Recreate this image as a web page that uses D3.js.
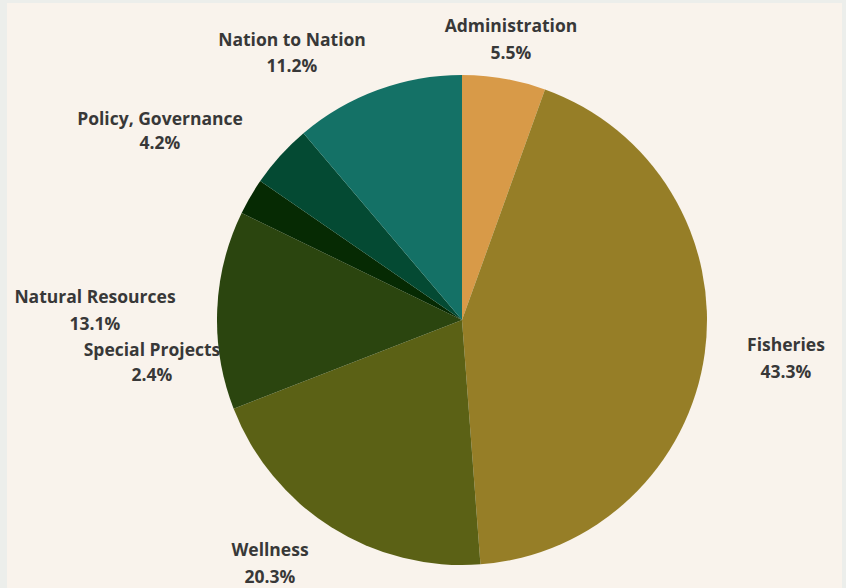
<!DOCTYPE html>
<html>
<head>
<meta charset="utf-8">
<script src="https://cdn.jsdelivr.net/npm/d3@7"></script>
<style>
  html, body { margin: 0; padding: 0; background: #ECEEEB; }
  svg { display: block; }
</style>
</head>
<body>
<div id="chart"></div>
<script>
// slice data, clockwise from 12 o'clock
var categories = ['Administration', 'Fisheries', 'Wellness', 'Natural Resources', 'Special Projects', 'Policy, Governance', 'Nation to Nation'];
var shares = [5.5, 43.3, 20.3, 13.1, 2.4, 4.2, 11.2];
var percentLabels = ['5.5%', '43.3%', '20.3%', '13.1%', '2.4%', '4.2%', '11.2%'];

var colors = ['#D89A48', '#967E27', '#5B6115', '#2B450F', '#062A03', '#044A33', '#147166'];
// hand placed labels: centre x, baseline of name, baseline of percent
var labelPos = [[511, 32, 59], [786, 351, 378], [270, 556, 583], [95, 303, 329.5], [152, 356, 381], [160, 124.5, 149], [292, 46, 72]];

var width = 846, height = 588;
var cx = 462, cy = 320, radius = 245;

var svg = d3.select('#chart').append('svg')
	.attr('width', width)
	.attr('height', height);

svg.append('rect')
	.attr('x', 7).attr('y', 3)
	.attr('width', 835).attr('height', height - 3)
	.attr('fill', '#F9F3EC');

var data = categories.map(function(c, i){
	return {name: c, value: shares[i], label: percentLabels[i], color: colors[i], pos: labelPos[i]};
});

var pie = d3.pie()
	.sort(null)
	.value(function(d){ return d.value; });

var arc = d3.arc()
	.innerRadius(0)
	.outerRadius(radius);

var g = svg.append('g').attr('transform', 'translate(' + cx + ',' + cy + ')');

g.selectAll('path')
	.data(pie(data))
	.enter().append('path')
	.attr('d', arc)
	.attr('fill', function(d){ return d.data.color; });

var labels = svg.append('g')
	.attr('font-family', '"Open Sans", sans-serif')
	.attr('font-weight', 700)
	.attr('font-size', 17.5)
	.attr('fill', '#383838')
	.attr('text-anchor', 'middle')
	.selectAll('g')
	.data(data)
	.enter().append('g');

labels.append('text')
	.attr('x', function(d){ return d.pos[0]; })
	.attr('y', function(d){ return d.pos[1]; })
	.text(function(d){ return d.name; });
labels.append('text')
	.attr('x', function(d){ return d.pos[0]; })
	.attr('y', function(d){ return d.pos[2]; })
	.text(function(d){ return d.label; });
</script>
</body>
</html>
